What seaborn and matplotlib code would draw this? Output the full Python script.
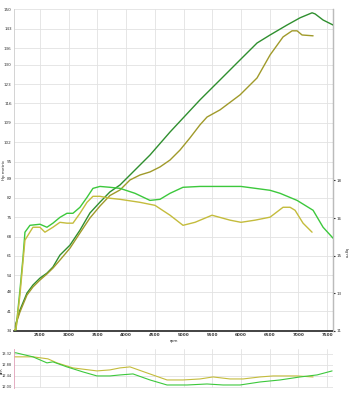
import numpy as np
import pandas as pd
import matplotlib
matplotlib.use("Agg")
import matplotlib.pyplot as plt
import seaborn as sns

# power curves (hp metric)
rpm_pw1 = [2047, 2152, 2274, 2378, 2500, 2622, 2726, 2848, 3023, 3197, 3371, 3545, 3719,
           3894, 4068, 4416, 4765, 5287, 5636, 5984, 6280, 6507, 6803, 7029, 7238, 7291,
           7430, 7604]
hp_pw1 = [34.3, 41.5, 47.6, 50.5, 53.0, 54.8, 57.0, 61.3, 64.9, 70.3, 76.5, 80.4, 84.1,
          86.6, 90.2, 97.4, 105.7, 117.3, 124.5, 131.7, 137.8, 140.7, 144.3, 146.9, 148.7,
          148.3, 146.1, 144.3]
rpm_pw2 = [2047, 2152, 2274, 2378, 2500, 2622, 2726, 2848, 3023, 3197, 3371, 3545, 3719,
           3894, 4068, 4242, 4416, 4590, 4765, 4939, 5113, 5287, 5409, 5636, 5984, 6280,
           6507, 6733, 6890, 6977, 7064, 7256]
hp_pw2 = [34.3, 40.8, 46.9, 49.8, 52.3, 54.5, 56.6, 59.5, 63.8, 69.3, 74.7, 79.0, 82.8,
          84.8, 88.4, 90.2, 91.3, 93.1, 95.6, 99.2, 103.6, 108.3, 111.1, 113.7, 119.1, 125.2,
          133.5, 140.0, 142.2, 142.2, 140.7, 140.4]

# torque curves (kg.m)
rpm_tq1 = [2047, 2082, 2152, 2204, 2239, 2326, 2500, 2622, 2726, 2848, 2970, 3075, 3197,
           3319, 3423, 3545, 3719, 3894, 4155, 4416, 4590, 4765, 4991, 5287, 6001, 6507,
           6681, 6977, 7256, 7430, 7604]
kgm_tq1 = [11.05, 11.05, 12.9, 14.38, 15.59, 15.91, 15.96, 15.82, 16.01, 16.28, 16.47, 16.47,
           16.75, 17.21, 17.63, 17.72, 17.68, 17.63, 17.40, 17.07, 17.12, 17.40, 17.68, 17.72,
           17.72, 17.54, 17.40, 17.07, 16.61, 15.82, 15.31]
rpm_tq2 = [2047, 2082, 2152, 2204, 2239, 2378, 2500, 2587, 2726, 2848, 2970, 3075, 3197,
           3319, 3423, 3545, 3719, 3894, 4242, 4503, 4765, 4991, 5200, 5496, 5810, 6001,
           6245, 6507, 6733, 6855, 6942, 7081, 7238]
kgm_tq2 = [11.05, 11.05, 12.67, 14.20, 15.22, 15.82, 15.82, 15.59, 15.82, 16.05, 16.01, 16.01,
           16.47, 16.98, 17.26, 17.26, 17.17, 17.12, 16.98, 16.84, 16.38, 15.91, 16.05, 16.38,
           16.15, 16.05, 16.15, 16.29, 16.75, 16.75, 16.61, 16.01, 15.59]

# air/fuel ratio
rpm_afr1 = [2047, 2082, 2378, 2622, 2726, 2970, 3249, 3493, 3719, 3894, 4120, 4416, 4713,
            5061, 5409, 5688, 5984, 6332, 6681, 7029, 7325, 7587]
afr1 = [13.36, 13.36, 13.20, 12.96, 13.00, 12.80, 12.60, 12.44, 12.44, 12.48, 12.52, 12.28,
        12.08, 12.08, 12.12, 12.08, 12.08, 12.20, 12.28, 12.40, 12.48, 12.64]
rpm_afr2 = [2047, 2082, 2378, 2639, 2796, 3075, 3493, 3719, 3894, 4068, 4364, 4713, 4991,
            5287, 5513, 5810, 6036, 6332, 6559, 6977, 7256]
afr2 = [13.20, 13.20, 13.20, 13.12, 12.96, 12.76, 12.64, 12.68, 12.76, 12.80, 12.56, 12.28,
        12.28, 12.32, 12.40, 12.32, 12.32, 12.40, 12.44, 12.44, 12.40]

hp_ticks = [34, 41, 48, 54, 61, 68, 75, 82, 89, 95, 102, 109, 116, 123, 130, 136, 143, 150]
kgm_ticks = [11, 12.75, 14.5, 16.25, 18]
kgm_labels = ["11", "13", "15", "16", "18"]
rpm_ticks = [2500, 3000, 3500, 4000, 4500, 5000, 5500, 6000, 6500, 7000, 7500]
afr_ticks = [12.00, 12.44, 12.88, 13.32]

c_pw1, c_pw2 = "#2f8f2f", "#a09a2a"
c_tq1, c_tq2 = "#3cc83c", "#c4bc3c"

sns.set_style("white")
plt.rcParams['font.family'] = ['DejaVu Sans']

fig = plt.figure(figsize=(3.57, 4.0), dpi=100)
ax = fig.add_axes([0.039, 0.173, 0.894, 0.804])
ax2 = ax.twinx()
axb = fig.add_axes([0.039, 0.03, 0.894, 0.098])

grid_c = "#e2e2e2"
for a in (ax, axb):
    a.set_xlim(2047, 7604)
    a.set_xticks(rpm_ticks)
    a.grid(True, color=grid_c, linewidth=0.6)
    a.set_axisbelow(True)

pw1 = pd.DataFrame({"rpm": rpm_pw1, "hp": hp_pw1})
pw2 = pd.DataFrame({"rpm": rpm_pw2, "hp": hp_pw2})
sns.lineplot(data=pw1, x="rpm", y="hp", ax=ax, color=c_pw1, linewidth=1.0)
sns.lineplot(data=pw2, x="rpm", y="hp", ax=ax, color=c_pw2, linewidth=1.0)
ax.set_ylim(34, 150)
ax.set_yticks(hp_ticks)
ax.set_yticklabels([str(v) for v in hp_ticks])
ax.set_xticklabels([str(v) for v in rpm_ticks], fontweight="bold")
ax.tick_params(labelsize=3, length=0, pad=1.5, colors="#333333")
ax.set_xlabel("rpm", fontsize=3, labelpad=1.5)
ax.set_ylabel("Hp metric", fontsize=3)
ax.yaxis.set_label_coords(-0.026, 0.5)

tq1 = pd.DataFrame({"rpm": rpm_tq1, "kgm": kgm_tq1})
tq2 = pd.DataFrame({"rpm": rpm_tq2, "kgm": kgm_tq2})
sns.lineplot(data=tq1, x="rpm", y="kgm", ax=ax2, color=c_tq1, linewidth=1.0)
sns.lineplot(data=tq2, x="rpm", y="kgm", ax=ax2, color=c_tq2, linewidth=1.0)
ax2.set_ylim(11, 25.97)
ax2.set_yticks(kgm_ticks)
ax2.set_yticklabels(kgm_labels)
ax2.tick_params(labelsize=3, length=1.5, pad=1, colors="#333333")
ax2.set_ylabel("kg·m", fontsize=3, rotation=270)
ax2.yaxis.set_label_coords(1.045, 0.24)
ax2.grid(False)

ax.spines["top"].set_visible(False)
ax2.spines["top"].set_visible(False)
ax.spines["bottom"].set_color("#222222")
ax.spines["bottom"].set_linewidth(1.2)
ax.spines["left"].set_color("#cccccc")
ax.spines["left"].set_linewidth(0.6)
ax2.spines["right"].set_color("#bbbbbb")
ax2.spines["right"].set_linewidth(0.8)
ax2.spines["left"].set_visible(False)
ax2.spines["bottom"].set_visible(False)

af1 = pd.DataFrame({"rpm": rpm_afr1, "afr": afr1})
af2 = pd.DataFrame({"rpm": rpm_afr2, "afr": afr2})
sns.lineplot(data=af2, x="rpm", y="afr", ax=axb, color=c_tq2, linewidth=0.8)
sns.lineplot(data=af1, x="rpm", y="afr", ax=axb, color=c_tq1, linewidth=0.8)
axb.set_ylim(11.96, 13.52)
axb.set_yticks(afr_ticks)
axb.set_yticklabels([f"{v:.2f}" for v in afr_ticks])
axb.set_xticklabels([])
axb.tick_params(labelsize=2.6, length=0, pad=1.2, colors="#333333")
axb.set_xlabel("")
axb.set_ylabel("AFR", fontsize=2.4)
axb.yaxis.set_label_coords(-0.03, 0.44)
for s in ("top", "right", "bottom"):
    axb.spines[s].set_visible(False)
axb.spines["left"].set_color("#e0a0b8")
axb.spines["left"].set_linewidth(0.6)

fig.savefig("out.png", dpi=100)
